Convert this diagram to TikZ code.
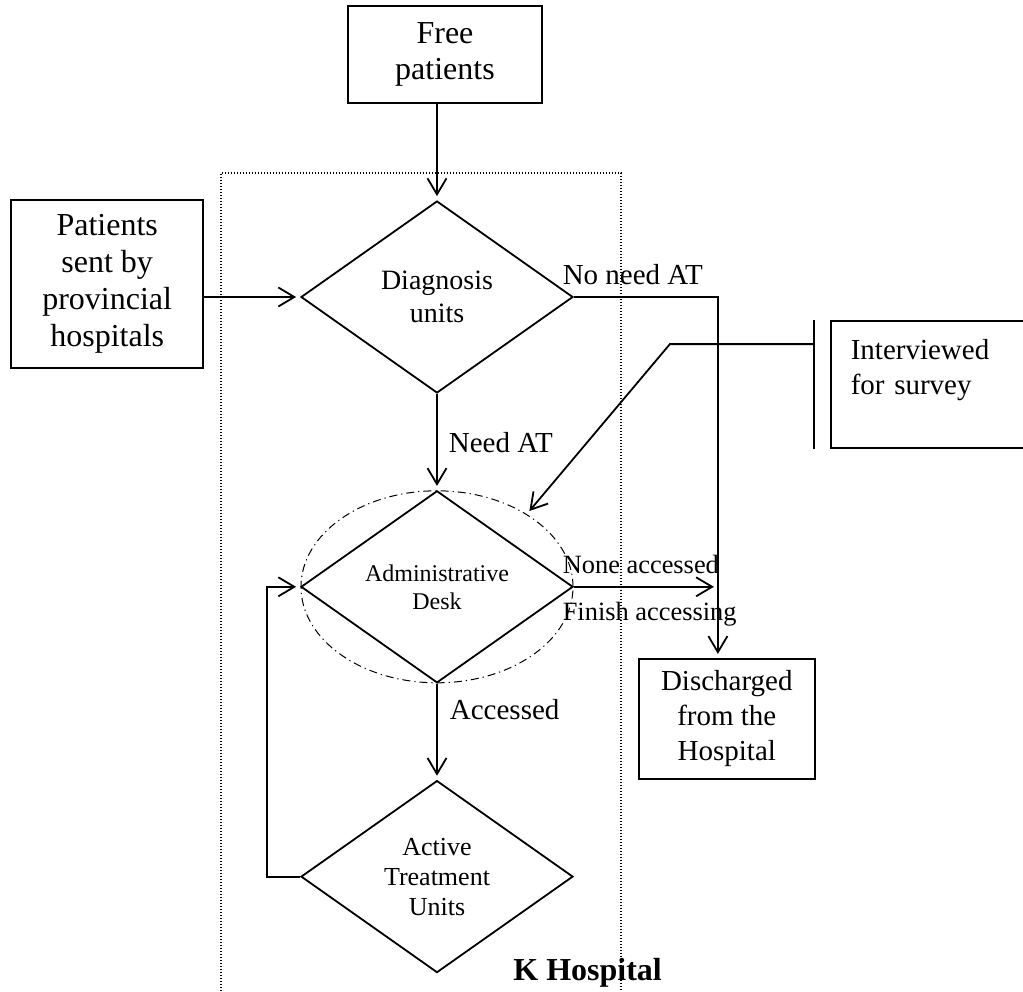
\documentclass[tikz,border=0pt]{standalone}
\usepackage{fontspec}
\setmainfont{Liberation Serif}
\usetikzlibrary{shapes.geometric,arrows.meta,positioning}

\begin{document}
\begin{tikzpicture}[x=0.5pt, y=-0.5pt, node distance=48pt,
    >={Straight Barb[length=8pt,width=9.5pt]},
    box/.style={draw, line width=0.9pt, align=center, inner sep=2pt, font=\fontsize{14.5}{17.5}\selectfont},
    decision/.style={draw, diamond, line width=0.9pt, align=center, inner sep=0pt, minimum width=136pt, minimum height=96pt},
    lbl/.style={inner sep=0pt, font=\fontsize{14.5}{17.5}\selectfont},
    small lbl/.style={inner sep=0pt, font=\fontsize{13.2}{16}\selectfont},
    flow/.style={->, line width=0.9pt, shorten >=2pt}]
                \useasboundingbox (0,0) rectangle (1023,991);

                % Hospital frame
                \draw[line width=0.6pt, dash pattern=on 0.6pt off 0.9pt] (221,1000) -- (221,173) -- (621,173) -- (621,1000);

                % Decisions
                \node (diag) [decision, font=\fontsize{14}{16.5}\selectfont] at (437,297) {Diagnosis\\units};
                \node (desk) [decision, below=of diag, font=\fontsize{12}{14}\selectfont] {Administrative\\Desk};
                \node (ring) [ellipse, draw, line width=0.5pt, dash pattern=on 4pt off 2pt on 0.6pt off 2pt, minimum width=136pt, minimum height=96pt] at (desk.center) {};
                \node (atu) [decision, below=of desk, font=\fontsize{13}{15}\selectfont] {Active\\Treatment\\Units};

                % Boxes
                \node (free) [box, above=of diag, xshift=4pt, minimum width=97pt, minimum height=48.5pt, font=\fontsize{16}{18}\selectfont] {Free\\patients};
                \node (sent) [box, left=of diag, yshift=6.5pt, minimum width=96pt, minimum height=84pt, font=\fontsize{16}{18.5}\selectfont] {Patients\\sent by\\provincial\\hospitals};
                \node (out) [box, right=32pt of desk, yshift=-66pt, minimum width=88pt, minimum height=60pt] {Discharged\\from the\\Hospital};
                \node (survey) [box, right=128pt of diag, yshift=-43.75pt, minimum height=63.5pt, text width=76.5pt, inner xsep=10pt, align=left] {Interviewed\\for survey\\~};
                \draw[line width=0.9pt] ([xshift=-8pt]survey.north west) -- ([xshift=-8pt]survey.south west);
                \coordinate (tap) at ([xshift=-8pt, yshift=-12pt]survey.north west);
                \coordinate (turn) at ([xshift=72pt]diag.east);

                \node (khosp) [anchor=base west, inner sep=0pt, font=\bfseries\fontsize{16}{19}\selectfont] at ([xshift=38pt, yshift=-3.5pt]atu.south) {K Hospital};

                % Connections
                \draw[flow] (free.south -| diag.north) -- (diag.north);
                \draw[flow] (sent.east |- diag.west) -- (diag.west);
                \draw[flow] (diag.east) node[lbl, anchor=base west, xshift=-6pt, yshift=6.5pt] {No need AT} -- (turn) -- (turn |- out.north);
                \draw[flow] (diag.south) -- node[lbl, anchor=base west, xshift=5.5pt, yshift=-5.5pt] {Need AT} (desk.north);
                \draw[flow] (tap) -- ++(-72pt,0) -- (ring.39);
                \draw[flow] (desk.east) node[small lbl, anchor=base west, xshift=-6pt, yshift=6.5pt] {None accessed}
                    node[small lbl, anchor=base west, xshift=-6pt, yshift=-17pt] {Finish accessing} -- (turn |- desk.east);
                \draw[flow] (desk.south) -- node[lbl, anchor=base west, xshift=6pt, yshift=6.25pt] {Accessed} (atu.north);
                \draw[flow] (atu.west) -- ++(-16.5pt,0) |- (desk.west);
            \end{tikzpicture}
\end{document}
